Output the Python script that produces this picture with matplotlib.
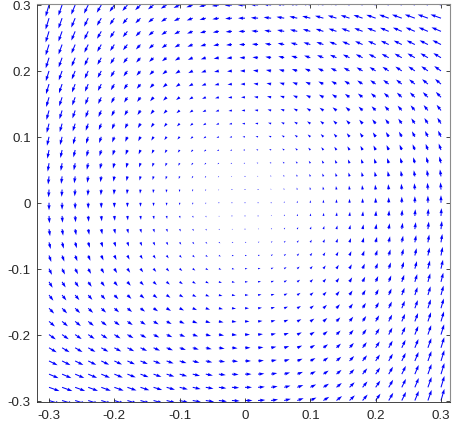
import numpy as np
import matplotlib
matplotlib.use("Agg")
import matplotlib.pyplot as plt

# grid of arrow tails (same as MATLAB -0.3:0.02:0.3)
x_vals = np.linspace(-0.3, 0.3, 31)
y_vals = np.linspace(-0.3, 0.3, 31)
# twist of the vortex
twist = 6.0

tick_vals = [-0.3, -0.2, -0.1, 0, 0.1, 0.2, 0.3]
tick_labels = ["-0.3", "-0.2", "-0.1", "0", "0.1", "0.2", "0.3"]

X, Y = np.meshgrid(x_vals, y_vals)
U = -Y * (1 + twist * X * Y)
V = X * (1 - twist * X * Y)

plt.rcParams["font.family"] = ["Liberation Sans", "DejaVu Sans"]
plt.rcParams["axes.unicode_minus"] = False

fig = plt.figure(figsize=(4.57, 4.31), dpi=100)
ax = fig.add_axes([37 / 457, (431 - 402.5) / 431, 413 / 457, 397.5 / 431])

# MATLAB style autoscale: longest arrow ~0.9 of grid spacing
step = x_vals[1] - x_vals[0]
mag = np.sqrt(U**2 + V**2)
scale = mag.max() / (0.92 * step)

ax.quiver(X, Y, U, V, color=(0, 0, 1), angles="xy", scale_units="xy",
          scale=scale, width=0.0025, headwidth=3.2, headlength=5,
          headaxislength=4.6, pivot="tail")

ax.set_xlim(-0.3184, 0.3138)
ax.set_ylim(-0.3015, 0.3015)
ax.set_xticks(tick_vals)
ax.set_xticklabels(tick_labels)
ax.set_yticks(tick_vals)
ax.set_yticklabels(tick_labels)
ax.tick_params(direction="in", length=3, width=0.6, colors="#262626",
               labelsize=9.6, top=True, right=True)
ax.tick_params(axis="x", pad=5.5)
ax.tick_params(axis="y", pad=4.5)
for s in ["left", "bottom"]:
    ax.spines[s].set_color("#262626")
    ax.spines[s].set_linewidth(0.6)
for s in ["top", "right"]:
    ax.spines[s].set_color("#8c8c8c")
    ax.spines[s].set_linewidth(0.8)

fig.savefig("out.png", dpi=100)
